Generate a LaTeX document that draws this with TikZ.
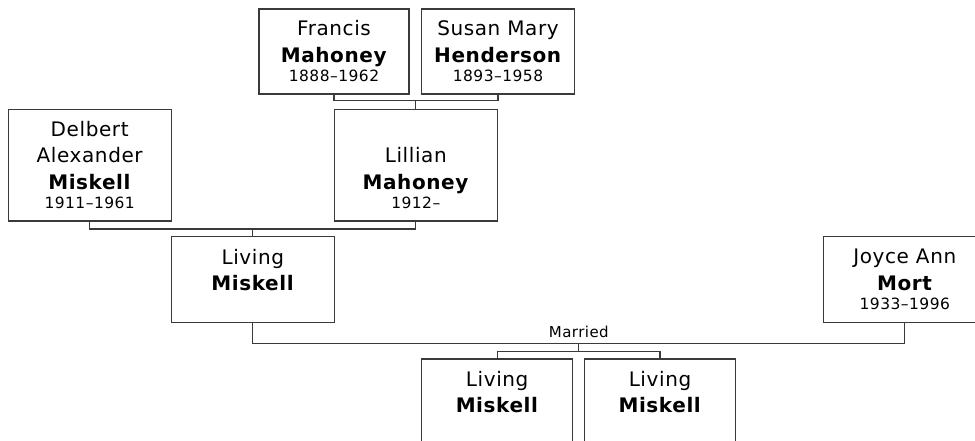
\documentclass[tikz,border=0pt]{standalone}
\usepackage{fontspec}
\setmainfont{DejaVu Sans}[LetterSpace=3]
\usepackage{tikz}
\newcommand\pname{\fontsize{20}{26.5}\selectfont}
\newcommand\pdates[1]{{\fontsize{15.5}{19.5}\selectfont #1}}
\definecolor{tline}{HTML}{3A3A3A}

\begin{document}
\begin{tikzpicture}[x=1pt,y=-1pt,
  p/.style={draw=tline,line width=1.3pt,fill=white,align=center,font=\pname,inner sep=0pt},
  pw/.style={p,minimum width=163pt},
  pn/.style={p,minimum width=151pt},
  ln/.style={draw=tline,line width=1.3pt},
  lbl/.style={font=\fontsize{15}{18}\selectfont,inner sep=0pt}]
  \clip (0,0) rectangle (975,440);
  \node[pn,minimum width=150pt,minimum height=85pt] (francis) at (334,51.5)
    {Francis\\\textbf{Mahoney}\\[-7pt]\pdates{1888--1962}};
  \node[pn,minimum width=152.6pt,minimum height=85pt] (susan) at (498,51.5)
    {Susan Mary\\\textbf{Henderson}\\[-7pt]\pdates{1893--1958}};
  \node[pw,minimum height=111.7pt] (delbert) at (89.7,165.2)
    {Delbert\\Alexander\\\textbf{Miskell}\\[-7pt]\pdates{1911--1961}};
  \node[pw,minimum height=111.7pt] (lillian) at (415.8,165.2)
    {\vphantom{D}\\Lillian\\\textbf{Mahoney}\\[-7pt]\pdates{1912--}};
  \node[pw,minimum height=85.6pt] (living) at (252.8,279.5)
    {Living\\\textbf{Miskell}\\[-7pt]\pdates{\phantom{1}}};
  \node[pw,minimum height=85.6pt] (joyce) at (904.8,279.5)
    {Joyce Ann\\\textbf{Mort}\\[-7pt]\pdates{1933--1996}};
  \node[pn,minimum height=85.6pt] (kid1) at (497.2,401.8)
    {Living\\\textbf{Miskell}\\[-7pt]\pdates{\phantom{1}}};
  \node[pn,minimum height=85.6pt] (kid2) at (660,401.8)
    {Living\\\textbf{Miskell}\\[-7pt]\pdates{\phantom{1}}};

  \draw[ln] (francis.south) -- ++(0,6) coordinate (fs) -| (susan.south);
  \draw[ln] (lillian.north) -- (lillian.north |- fs);
  \draw[ln] (delbert.south) -- ++(0,7.3) coordinate (dl) -| (lillian.south);
  \draw[ln] (living.north) -- (living.north |- dl);
  \draw[ln] (living.south) -- ++(0,20.5) -| coordinate[pos=0.25] (mar)
    node[pos=0.25,lbl,above=4.6pt] (married) {Married} (joyce.south);
  \draw[ln] (mar) -- ++(0,8) coordinate (kids);
  \draw[ln] (kid1.north) |- (kids) -| (kid2.north);
\end{tikzpicture}
\end{document}
